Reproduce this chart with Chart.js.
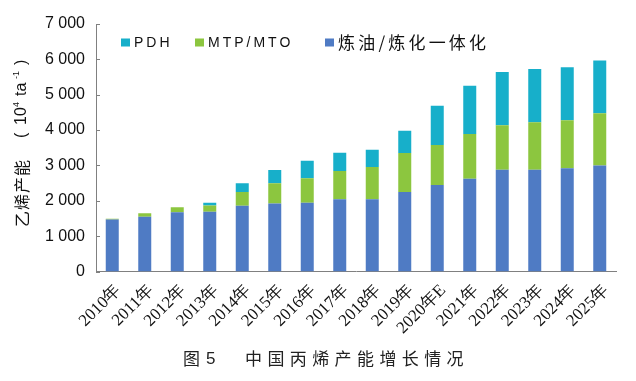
<!DOCTYPE html>
<html>
<head>
<meta charset="utf-8">
<script src="https://cdn.jsdelivr.net/npm/chart.js@4.4.1/dist/chart.umd.min.js"></script>
<style>
  html, body { margin: 0; padding: 0; background: #fff; }
  #wrap { position: relative; width: 636px; height: 381px; }
</style>
</head>
<body>
<div id="wrap"><canvas id="capacityChart" width="636" height="381"></canvas></div>
<script>
// 数据
const years = ['2010年', '2011年', '2012年', '2013年', '2014年', '2015年', '2016年', '2017年',
  '2018年', '2019年', '2020年E', '2021年', '2022年', '2023年', '2024年', '2025年'];
const refinery = [1470, 1550, 1675, 1690, 1860, 1920, 1945, 2040, 2040, 2250, 2445, 2625, 2880, 2880, 2920, 2995];
const mtpMto = [20, 95, 140, 180, 390, 575, 690, 800, 915, 1100, 1135, 1265, 1255, 1340, 1355, 1480];
const pdh = [0, 0, 0, 75, 245, 375, 500, 520, 490, 630, 1110, 1365, 1505, 1505, 1500, 1490];
const yTicks = [0, 1000, 2000, 3000, 4000, 5000, 6000, 7000];

const seriesNames = ['炼油/炼化一体化', 'MTP/MTO', 'PDH'];
const colors = ['#4f7bc4', '#8cc63f', '#17afca'];

const CJK = '"Noto Sans CJK SC", sans-serif';
const LAT = '"Liberation Sans", sans-serif';

// 图例, 纵轴标题, 图题
const extrasPlugin = {
  id: 'extras',
  afterDraw(chart) {
    const ctx = chart.ctx;
    const yScale = chart.scales.y;
    ctx.save();

    // short inward tick marks on the y axis
    ctx.strokeStyle = '#808080';
    ctx.lineWidth = 1;
    yTicks.forEach(v => {
      const py = Math.round(yScale.getPixelForValue(v)) + 0.5;
      ctx.beginPath();
      ctx.moveTo(yScale.right, py);
      ctx.lineTo(yScale.right + 4, py);
      ctx.stroke();
    });

    // legend: PDH, MTP/MTO, 炼油/炼化一体化
    const items = [
      { name: seriesNames[2], color: colors[2], x: 121, font: '14px ' + LAT, sp: '3px' },
      { name: seriesNames[1], color: colors[1], x: 195, font: '14px ' + LAT, sp: '3px' },
      { name: seriesNames[0], color: colors[0], x: 325, font: '17px ' + CJK, sp: '3.2px' }
    ];
    ctx.textBaseline = 'middle';
    ctx.textAlign = 'left';
    items.forEach(it => {
      ctx.fillStyle = it.color;
      ctx.fillRect(it.x, 38.5, 9, 8);
      ctx.fillStyle = '#111';
      ctx.font = it.font;
      ctx.letterSpacing = it.sp;
      ctx.fillText(it.name, it.x + 13, 43);
    });
    ctx.letterSpacing = '0px';

    // y axis title, rotated
    ctx.save();
    ctx.translate(22, 227);
    ctx.rotate(-Math.PI / 2);
    ctx.fillStyle = '#111';
    const part = (txt, font, s, dy) => { ctx.font = font; ctx.fillText(txt, s, dy || 0); };
    ctx.letterSpacing = '1px';
    part('乙烯产能', '16px ' + CJK, 0);
    ctx.letterSpacing = '0px';
    part('(', '16px ' + LAT, 89);
    part('10', '16px ' + LAT, 102);
    part('4', '9px ' + LAT, 120, -5);
    part('ta', '16px ' + LAT, 131);
    part('-1', '9px ' + LAT, 148, -5);
    part(')', '16px ' + LAT, 162);
    ctx.restore();

    // caption
    ctx.fillStyle = '#222';
    ctx.font = '17px ' + CJK;
    ctx.fillText('图', 183, 359);
    ctx.font = '17px ' + LAT;
    ctx.fillText('5', 206, 359);
    ctx.font = '17px ' + CJK;
    ctx.letterSpacing = '5.4px';
    ctx.fillText('中国丙烯产能增长情况', 245, 359);
    ctx.restore();
  }
};

const ctx = document.getElementById('capacityChart').getContext('2d');
const capacityChart = new Chart(ctx, {
  type: 'bar',
  data: {
    labels: years,
    datasets: [
      { label: seriesNames[0], data: refinery, backgroundColor: colors[0] },
      { label: seriesNames[1], data: mtpMto, backgroundColor: colors[1] },
      { label: seriesNames[2], data: pdh, backgroundColor: colors[2] }
    ]
  },
  options: {
    responsive: false,
    animation: false,
    layout: { padding: { left: 0, right: 20, top: 24, bottom: 0 } },
    datasets: {
      bar: { barPercentage: 0.4, categoryPercentage: 1 }
    },
    plugins: {
      legend: { display: false },
      tooltip: { enabled: false }
    },
    scales: {
      x: {
        stacked: true,
        grid: { display: false, drawTicks: false },
        border: { display: true, color: '#808080', width: 1 },
        ticks: {
          color: '#111',
          font: { family: '"Liberation Serif", serif', size: 17 },
          minRotation: 45,
          maxRotation: 45,
          padding: 9,
          labelOffset: 6,
          autoSkip: false
        },
        afterFit(scale) { scale.height = 109.5; }
      },
      y: {
        stacked: true,
        min: 0,
        max: 7000,
        afterBuildTicks(scale) { scale.ticks = yTicks.map(v => ({ value: v })); },
        grid: { display: false, drawTicks: false },
        border: { display: true, color: '#808080', width: 1 },
        ticks: {
          color: '#111',
          font: { family: LAT, size: 16 },
          padding: 11,
          callback: v => v === 0 ? '0' : (v / 1000) + ' 000'
        },
        afterFit(scale) { scale.width = 96; }
      }
    }
  },
  plugins: [extrasPlugin]
});
</script>
</body>
</html>
